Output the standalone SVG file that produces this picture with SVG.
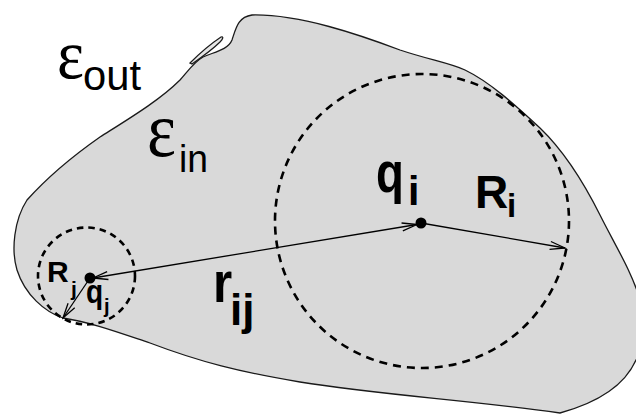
<svg xmlns="http://www.w3.org/2000/svg" width="636" height="414" viewBox="0 0 636 414">
<style>
.outline{fill:#d9d9d9;stroke:#1a1a1a;stroke-width:1.3}
.sliver{fill:#e6e6e6;stroke:#1a1a1a;stroke-width:1.2}
.dash{fill:none;stroke:#000;stroke-width:2.6}
.arr{fill:none;stroke:#000;stroke-width:1.3}
.dot{fill:#000}
.eps{font-family:"Liberation Serif","DejaVu Serif",serif;fill:#000}
.sub{font-family:"Liberation Sans",Arial,sans-serif;fill:#000}
.lbl{font-family:"Liberation Sans",Arial,sans-serif;font-weight:bold;fill:#000}
</style>
<defs>
<marker id="head" viewBox="-16 -6 18 12" refX="0" refY="0" markerWidth="18" markerHeight="12" markerUnits="userSpaceOnUse" orient="auto-start-reverse">
<path d="M-15,-4 L0,0 L-15,4" fill="none" stroke="#000" stroke-width="1.3"/>
</marker>
</defs>
<rect width="636" height="414" fill="#fff"/>
<g id="region">
<path class="outline" d="M27,200 C45,180 70,158 100,137 C130,118 160,100 180,80 C188,71 194,62 203,57 C214,52 228,50 232,40 C236,28 238,17 252,15 C300,14 360,35 400,50 C430,60 450,63 465,70 C490,82 515,105 540,128 C565,152 585,185 600,215 C615,245 632,272 640,300 C648,325 645,345 636,360 C625,385 600,402 560,413 C470,400 380,395 300,382 C240,372 200,362 150,343 C120,333 90,322 63,318 C45,312 25,295 17,270 C11,250 14,220 27,200 Z"/>
<path class="sliver" d="M190,63 C198,55 212,43 221,37 C224,36 223,39 220,42 C212,50 202,57 192,64 Z"/>
</g>
<g id="circle-i">
<circle class="dash" cx="422" cy="221" r="147" stroke-dasharray="8,6"/>
</g>
<g id="circle-j">
<circle class="dash" cx="86.5" cy="276" r="48.5" stroke-dasharray="6.5,5"/>
</g>
<g id="connectors">
<line class="arr" x1="93" y1="278" x2="417" y2="224.5" marker-start="url(#head)" marker-end="url(#head)"/>
<line class="arr" x1="421" y1="223" x2="565" y2="248" marker-end="url(#head)"/>
<line class="arr" x1="90" y1="278" x2="63" y2="318" marker-end="url(#head)"/>
</g>
<g id="node-qi">
<circle class="dot" cx="421" cy="223" r="5.5"/>
<text class="lbl" transform="translate(376,192) scale(0.8,1)" font-size="57">q</text>
<text class="lbl" x="408" y="205" font-size="41">i</text>
</g>
<g id="label-Ri">
<text class="lbl" x="475" y="208" font-size="46">R</text>
<text class="lbl" x="507" y="217" font-size="33">i</text>
</g>
<g id="node-qj">
<circle class="dot" cx="90" cy="278" r="5.5"/>
<text class="lbl" transform="translate(86,303) scale(0.85,1)" font-size="33">q</text>
<text class="lbl" x="104" y="313" font-size="20">j</text>
</g>
<g id="label-Rj">
<text class="lbl" x="47" y="282" font-size="30">R</text>
<text class="lbl" x="71" y="296" font-size="21">j</text>
</g>
<g id="label-rij">
<text class="lbl" transform="translate(213,302) scale(0.85,1)" font-size="58">r</text>
<text class="lbl" x="230" y="325" font-size="44">ij</text>
</g>
<g id="label-eout">
<text class="eps" x="57" y="78" font-size="70" textLength="27" lengthAdjust="spacingAndGlyphs">ε</text>
<text class="sub" x="83" y="90" font-size="42" textLength="58" lengthAdjust="spacingAndGlyphs">out</text>
</g>
<g id="label-ein">
<text class="eps" x="147" y="156" font-size="78" textLength="29" lengthAdjust="spacingAndGlyphs">ε</text>
<text class="sub" x="179" y="172" font-size="38" textLength="29" lengthAdjust="spacingAndGlyphs">in</text>
</g>
</svg>
